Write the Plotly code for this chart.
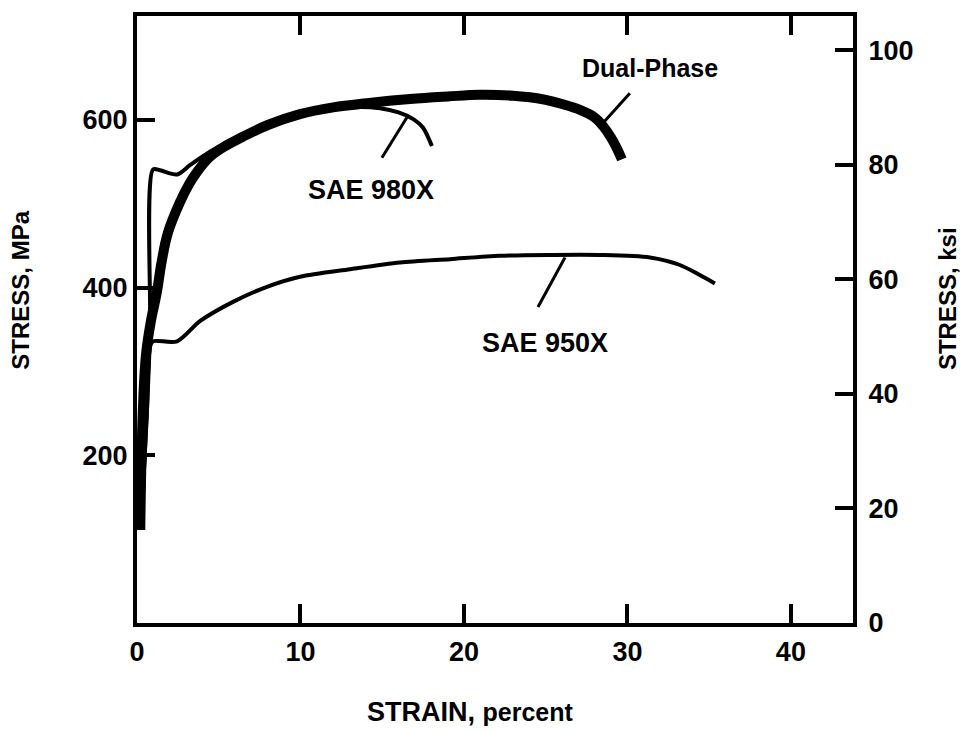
import plotly.graph_objects as go

# ---- data (strain in percent, stress in MPa) ----
dual_strain = [0.20, 0.35, 0.55, 0.85, 1.22, 1.50, 1.90, 2.63, 3.20, 3.67, 4.46, 5.50, 6.48, 8.00, 9.97,
               12.00, 14.07, 16.70, 19.00, 20.98, 23.00, 24.04, 25.00, 26.00, 27.10, 28.00, 28.50, 29.00, 29.36, 29.66]
dual_stress = [111, 250, 320, 360, 395, 430, 466, 502, 524, 538, 556, 570, 580, 594, 607,
               615, 620, 625, 628, 630, 629, 627, 624, 619, 612, 603, 593, 579, 566, 553]

sae980_strain = [0.24, 0.60, 0.80, 0.98, 1.41, 2.45, 3.24, 4.46, 6.91, 9.97, 13.03, 14.86, 16.00, 16.90, 17.49, 18.04]
sae980_stress = [111, 250, 348, 541, 540, 535, 546, 562, 587, 606, 615, 614, 609, 601, 591, 569]

sae950_strain = [0.24, 0.60, 0.80, 0.98, 2.45, 3.85, 5.87, 7.95, 9.97, 13.03, 16.09, 19.14, 22.20, 25.26,
                 28.32, 31.38, 33.21, 34.43, 35.35]
sae950_stress = [111, 250, 330, 336, 336, 360, 383, 401, 413, 422, 430, 434, 438, 439,
                 439, 436, 427, 415, 405]

x_ticks = [0, 10, 20, 30, 40]
mpa_ticks = [200, 400, 600]
ksi_ticks = [0, 20, 40, 60, 80, 100]

labels = ["Dual-Phase", "SAE 980X", "SAE 950X"]
label_pos = [(31.38, 662), (14.31, 517), (24.95, 334)]
leader_lines = [((30.15, 632), (28.44, 595)),
                ((14.98, 555), (16.51, 603)),
                ((24.53, 377), (26.18, 436))]

FONT = "Liberation Sans, Arial, Helvetica, sans-serif"

fig = go.Figure()
fig.add_trace(go.Scatter(x=dual_strain, y=dual_stress, mode="lines",
                         line=dict(color="black", width=10, shape="spline", smoothing=1.1),
                         showlegend=False))
fig.add_trace(go.Scatter(x=sae980_strain, y=sae980_stress, mode="lines",
                         line=dict(color="black", width=4, shape="spline", smoothing=0.8),
                         showlegend=False))
fig.add_trace(go.Scatter(x=sae950_strain, y=sae950_stress, mode="lines",
                         line=dict(color="black", width=4, shape="spline", smoothing=0.8),
                         showlegend=False))
# invisible trace to activate right axis
fig.add_trace(go.Scatter(x=[None], y=[None], yaxis="y2", showlegend=False))

tickfont = dict(family=FONT, size=27, color="black", weight="bold")

fig.update_layout(
    width=967, height=730, autosize=False,
    margin=dict(l=137, r=114, t=12, b=107),
    paper_bgcolor="white", plot_bgcolor="white",
    xaxis=dict(range=[0, 43.8], tickvals=x_ticks, ticks="inside", ticklen=19, tickwidth=4,
               tickcolor="black", showline=True, linewidth=4, linecolor="black",
               mirror="ticks", showgrid=False, zeroline=False, tickfont=tickfont,
               ticklabelstandoff=2),
    yaxis=dict(range=[0, 724], tickvals=mpa_ticks, ticks="inside", ticklen=18, tickwidth=4,
               tickcolor="black", showline=True, linewidth=4, linecolor="black",
               showgrid=False, zeroline=False, tickfont=tickfont),
    yaxis2=dict(range=[0, 106], tickvals=ksi_ticks, ticks="inside", ticklen=18, tickwidth=4,
                tickcolor="black", showline=True, linewidth=4, linecolor="black",
                overlaying="y", side="right", showgrid=False, zeroline=False,
                tickfont=tickfont, ticklabelstandoff=6),
)

for (x0, y0), (x1, y1) in leader_lines:
    fig.add_shape(type="line", xref="x", yref="y", x0=x0, y0=y0, x1=x1, y1=y1,
                  line=dict(color="black", width=3))

sizes = [25, 27, 27]
for t, (x, y), s in zip(labels, label_pos, sizes):
    fig.add_annotation(x=x, y=y, xref="x", yref="y", text=t, showarrow=False,
                       xanchor="center", yanchor="middle",
                       font=dict(family=FONT, size=s, color="black", weight="bold"))

fig.add_annotation(x=0.465, y=-0.146, xref="paper", yref="paper",
                   xanchor="center", yanchor="middle",
                   text="STRAIN, <span style='font-size:25px'>percent</span>", showarrow=False,
                   font=dict(family=FONT, size=27, color="black", weight="bold"))
fig.add_annotation(x=-0.163, y=0.548, xref="paper", yref="paper", text="STRESS, MPa",
                   xanchor="center", yanchor="middle",
                   textangle=-90, showarrow=False,
                   font=dict(family=FONT, size=24, color="black", weight="bold"))
fig.add_annotation(x=1.133, y=0.534, xref="paper", yref="paper", text="STRESS, ksi",
                   xanchor="center", yanchor="middle",
                   textangle=-90, showarrow=False,
                   font=dict(family=FONT, size=24, color="black", weight="bold"))

fig.write_html("out.html")
